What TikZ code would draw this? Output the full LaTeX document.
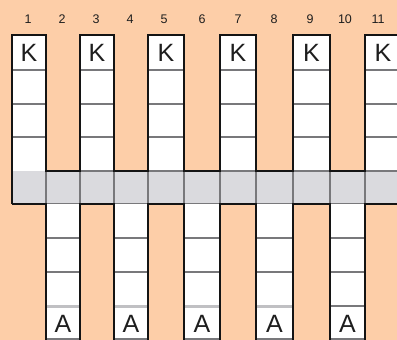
\documentclass[tikz,border=0pt]{standalone}
\usepackage{fontspec}
\setmainfont{Liberation Sans}
\definecolor{peach}{RGB}{253,206,168}
\definecolor{bandgrey}{RGB}{218,218,222}
\definecolor{linegrey}{RGB}{120,120,123}
\definecolor{lightline}{RGB}{192,192,195}
\definecolor{txt}{RGB}{30,30,30}
\tikzset{
  gridline/.style={draw=linegrey,line width=1.8pt},
  softline/.style={draw=lightline,line width=3pt},
  outline/.style={draw=black!92,line width=2.4pt,line join=miter},
  letter/.style={text=txt,font=\fontsize{25}{25}\selectfont,inner sep=0pt,anchor=center},
  num/.style={text=txt,font=\fontsize{12.5}{12.5}\selectfont,inner sep=0pt,anchor=center}
}
\begin{document}
\begin{tikzpicture}[x=1pt,y=-1pt]
\useasboundingbox (0,0) rectangle (397,340);
\clip (0,0) rectangle (397,340);
\fill[peach] (-2,-2) rectangle (399,342);
% column numbers
\foreach \x [count=\i] in {28,62,96,130,164,202,238,274,310,345,378}
  \node[num] (n\i) at (\x,19) {\i};
% K columns
\foreach \l/\r [count=\i] in {12/46,80/114,148/184,220/256,293/330,365/401}{
  \fill[white] (\l,35) rectangle (\r,171);
  \foreach \y in {70,104,137} \draw[gridline] (\l,\y) -- (\r,\y);
  \node[letter] (k\i) at ({(\l+\r)/2},53) {K};
}
% band
\fill[bandgrey] (12,171) rectangle (401,204);
\foreach \x in {46,80,114,148,184,220,256,293,330,365}
  \draw[gridline] (\x,171) -- (\x,204);
\draw[gridline] (46,171) -- (401,171);
\draw[gridline] (12,204) -- (401,204);
% A columns
\foreach \l/\r [count=\i] in {46/80,114/148,184/220,256/293,330/365}{
  \fill[white] (\l,204) rectangle (\r,340);
  \foreach \y in {238,272} \draw[gridline] (\l,\y) -- (\r,\y);
  \draw[gridline] (\l,339) -- (\r,339);
  \node[letter] (a\i) at ({(\l+\r)/2},324) {A};
}
\foreach \l/\r in {46/80,114/148,184/220,256/293}
  \draw[softline] (\l,306) -- (\r,306);
\draw[gridline] (330,306) -- (365,306);
% black outlines
\draw[outline] (12,204) -- (12,35) -- (46,35) -- (46,171) -- (80,171) -- (80,35) -- (114,35) -- (114,171)
  -- (148,171) -- (148,35) -- (184,35) -- (184,171) -- (220,171) -- (220,35) -- (256,35) -- (256,171)
  -- (293,171) -- (293,35) -- (330,35) -- (330,171) -- (365,171) -- (365,35) -- (401,35);
\draw[outline] (12,204) -- (46,204) -- (46,342);
\draw[outline] (80,342) -- (80,204) -- (114,204) -- (114,342);
\draw[outline] (148,342) -- (148,204) -- (184,204) -- (184,342);
\draw[outline] (220,342) -- (220,204) -- (256,204) -- (256,342);
\draw[outline] (293,342) -- (293,204) -- (330,204) -- (330,342);
\draw[outline] (365,342) -- (365,204) -- (401,204);
\end{tikzpicture}
\end{document}
